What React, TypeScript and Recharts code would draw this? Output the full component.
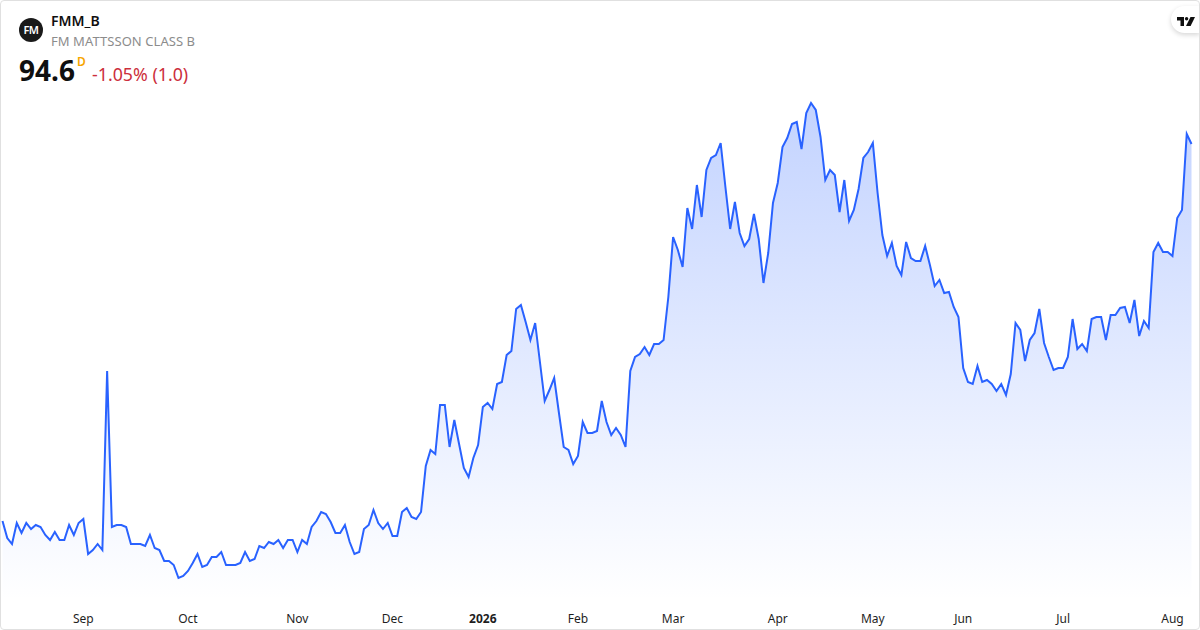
import { Area, AreaChart, XAxis, YAxis } from "recharts";

const FONT = '"Noto Sans", sans-serif';

// daily closes, SEK
const closes = [
  56.9, 55.2, 54.6, 56.7, 55.7, 56.7, 56.1, 56.5, 56.3, 55.5, 55.0, 55.8, 55.0, 55.0, 56.5, 55.5, 56.7,
  57.1, 53.6, 54.0, 54.6, 54.0, 71.9, 56.3, 56.5, 56.5, 56.3, 54.6, 54.6, 54.6, 54.4, 55.5, 54.2, 54.0,
  52.9, 52.9, 52.5, 51.2, 51.4, 51.9, 52.7, 53.6, 52.3, 52.5, 53.3, 53.3, 53.8, 52.5, 52.5, 52.5, 52.7,
  53.8, 52.9, 53.1, 54.4, 54.2, 54.8, 54.6, 55.0, 54.2, 55.0, 55.0, 53.8, 55.0, 54.6, 56.3, 56.9, 57.8,
  57.6, 56.8, 55.7, 55.7, 56.5, 54.8, 53.6, 53.8, 56.1, 56.5, 58.0, 56.7, 56.1, 56.7, 55.4, 55.4, 57.8,
  58.2, 57.3, 57.1, 57.8, 62.4, 64.0, 63.6, 68.5, 68.5, 64.3, 67.0, 64.6, 62.2, 61.3, 63.2, 64.5, 68.3,
  68.7, 68.1, 70.6, 70.8, 73.5, 73.9, 78.1, 78.5, 76.8, 75.0, 76.7, 72.8, 68.9, 70.0, 71.2, 67.7, 64.3,
  64.0, 62.6, 63.4, 66.8, 65.7, 65.7, 65.9, 68.9, 66.8, 65.5, 66.2, 65.5, 64.3, 71.9, 73.3, 73.6, 74.3,
  73.5, 74.6, 74.6, 75.0, 79.3, 85.3, 84.0, 82.3, 88.2, 86.1, 90.5, 87.3, 92.0, 93.2, 93.5, 94.7, 90.3,
  86.1, 88.8, 85.7, 84.4, 85.1, 87.6, 85.1, 80.7, 83.7, 88.7, 90.7, 94.3, 95.2, 96.6, 96.8, 94.1, 97.7,
  98.7, 98.0, 95.3, 91.0, 92.0, 91.5, 87.8, 91.0, 86.9, 88.0, 90.1, 93.2, 93.8, 94.7, 89.7, 85.5, 83.4,
  84.7, 82.4, 81.5, 84.8, 83.2, 82.9, 82.9, 84.4, 82.5, 80.4, 81.0, 79.7, 79.8, 78.3, 77.3, 72.2, 70.8,
  70.6, 72.4, 70.8, 71.0, 70.6, 69.9, 70.6, 69.5, 71.6, 76.7, 76.0, 72.9, 75.0, 75.7, 78.1, 74.7, 73.3,
  72.0, 72.2, 72.2, 73.3, 77.1, 74.1, 74.6, 73.9, 77.1, 77.3, 77.3, 75.0, 77.5, 77.5, 78.2, 78.3, 76.7,
  79.0, 75.4, 76.9, 76.2, 83.8, 84.7, 83.8, 83.8, 83.4, 87.2, 88.0, 95.6, 94.6,
];

// first trading day of each month, as index into closes
const monthTicks = [17, 39, 62, 82, 101, 121, 141, 163, 183, 202, 223, 246];
const monthLabels = ["Sep", "Oct", "Nov", "Dec", "2026", "Feb", "Mar", "Apr", "May", "Jun", "Jul", "Aug"];

const data = closes.map((close, day) => ({ day, close }));

function MonthTick({ x, y, payload }: any) {
  const label = monthLabels[monthTicks.indexOf(payload.value)];
  return (
    <text
      x={x}
      y={y + 13}
      dy="0.36em"
      textAnchor="middle"
      fontFamily={FONT}
      fontSize={12}
      fontWeight={label === "2026" ? 700 : 400}
      fill="#1e1e1e"
    >
      {label}
    </text>
  );
}

function Header() {
  return (
    <>
      <div
        style={{
          position: "absolute",
          left: 19,
          top: 18,
          width: 24,
          height: 24,
          borderRadius: 12,
          background: "#1a1a1a",
          color: "#fff",
          fontSize: 11,
          fontWeight: 600,
          letterSpacing: -0.5,
          lineHeight: "24px",
          textAlign: "center",
        }}
      >
        FM
      </div>
      <div style={{ position: "absolute", left: 51, top: 11, fontSize: 14, fontWeight: 600, color: "#0f0f0f" }}>
        FMM_B
      </div>
      <div
        style={{
          position: "absolute",
          left: 51,
          top: 32,
          fontSize: 13,
          letterSpacing: 0.06,
          color: "#8c8c8c",
        }}
      >
        FM MATTSSON CLASS B
      </div>
      <div
        style={{
          position: "absolute",
          left: 19,
          top: 51,
          fontSize: 28,
          fontWeight: 700,
          color: "#0f0f0f",
        }}
      >
        94.6
      </div>
      <div style={{ position: "absolute", left: 77, top: 53, fontSize: 12, fontWeight: 600, color: "#f7a600" }}>D</div>
      <div style={{ position: "absolute", left: 92, top: 62, fontSize: 17.8, color: "#cc2f3c" }}>-1.05% (1.0)</div>
      <div
        style={{
          position: "absolute",
          right: 0,
          top: 6,
          width: 29,
          height: 27,
          background: "#fff",
          borderRadius: "14px 0 0 14px",
          boxShadow: "0 2px 5px rgba(0,0,0,0.16)",
        }}
      >
        <svg width="18" height="9" viewBox="0 0 18 9" style={{ position: "absolute", left: 6, top: 11 }}>
          <path d="M0 0h7v9H3.5V3.5H0z" fill="#0f0f0f" />
          <circle cx="9.6" cy="1.7" r="1.7" fill="#0f0f0f" />
          <path d="M13.5 0H18L13.6 9H9z" fill="#0f0f0f" />
        </svg>
      </div>
    </>
  );
}

export default function App() {
  return (
    <div
      style={{
        position: "fixed",
        left: 0,
        top: 0,
        width: 1200,
        height: 630,
        background: "#fff",
        fontFamily: FONT,
        overflow: "hidden",
      }}
    >
      <AreaChart width={1200} height={630} data={data} margin={{ top: 0, right: 8.5, bottom: 0, left: 2.5 }}>
        <defs>
          <linearGradient id="closeFill" x1="0" y1="0" x2="0" y2="1">
            <stop offset="0%" stopColor="#2962ff" stopOpacity={0.28} />
            <stop offset="100%" stopColor="#2962ff" stopOpacity={0} />
          </linearGradient>
        </defs>
        <XAxis
          type="number"
          dataKey="day"
          domain={[0, 250]}
          ticks={monthTicks}
          tick={<MonthTick />}
          interval={0}
          axisLine={false}
          tickLine={false}
          height={30}
          tickMargin={0}
        />
        <YAxis hide domain={[49, 109]} />
        <Area
          type="linear"
          dataKey="close"
          stroke="#2962ff"
          strokeWidth={2}
          fill="url(#closeFill)"
          fillOpacity={1}
          isAnimationActive={false}
          dot={false}
        />
      </AreaChart>
      <Header />
      <div
        style={{
          position: "absolute",
          inset: 0,
          border: "1px solid #e0e0e0",
          borderRadius: 4,
          pointerEvents: "none",
        }}
      />
    </div>
  );
}
